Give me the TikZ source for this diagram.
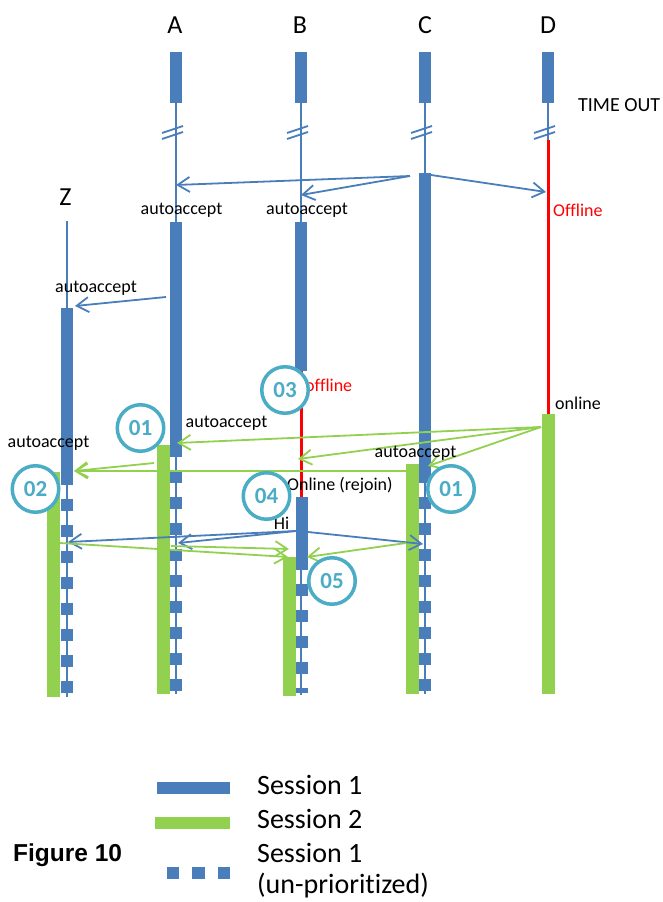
\documentclass[tikz,border=0pt]{standalone}
\usepackage{fontspec}
\setmainfont{Carlito}[Ligatures=NoCommon]
\newfontfamily\arialfam{Liberation Sans}
\usetikzlibrary{arrows.meta}
\definecolor{sblue}{RGB}{74,126,187}
\definecolor{sgreen}{RGB}{146,208,80}
\definecolor{steal}{RGB}{75,172,198}
\definecolor{sred}{RGB}{255,0,0}
\newcommand\lblfont{\fontsize{18}{20}\selectfont}
\newcommand\hdrfont{\fontsize{26}{28}\selectfont}
\newcommand\legfont{\fontsize{28}{30}\selectfont}
\tikzset{
  thinline/.style={draw=sblue, line width=1.8pt},
  redline/.style={draw=sred, line width=3pt},
  bluebar/.style={fill=sblue, draw=none},
  greenbar/.style={fill=sgreen, draw=none},
  dashbar/.style={draw=sblue, line width=12.5pt, dash pattern=on 12pt off 14pt, dash phase=12pt},
  barrow/.style={draw=sblue, line width=1.8pt, -{Straight Barb[length=12pt,width=15pt]}},
  garrow/.style={draw=sgreen, line width=1.8pt, -{Straight Barb[length=12pt,width=15pt]}},
  lbl/.style={font=\lblfont, inner sep=0pt, text=black},
  hdr/.style={font=\hdrfont, inner sep=0pt, text=black},
  legtxt/.style={font=\legfont, inner sep=0pt, text=black, anchor=base west},
  circ/.style={circle, draw=steal, line width=3.5pt, fill=white, minimum size=46.5pt,
    inner sep=0pt, text=steal, font=\fontsize{23}{25}\selectfont\bfseries}
}
\begin{document}
\begin{tikzpicture}[x=1pt,y=-1pt]
\useasboundingbox (0,0) rectangle (663,902);

% headers
\node[hdr] (hA) at (175,25.5) {A};
\node[hdr] (hB) at (300,25.5) {B};
\node[hdr] (hC) at (425,25.5) {C};
\node[hdr] (hD) at (548,25.5) {D};
\node[hdr] (hZ) at (65.5,197) {Z};
\node[font=\fontsize{20}{22}\selectfont, inner sep=0pt, anchor=west] (tout) at (578,105) {TIME OUT};

% thin lifelines
\draw[thinline] (67,221) -- (67,697);
\draw[thinline] (176,103) -- (176,694);
\draw[thinline] (301,103) -- (301,371);
\draw[thinline] (301,570) -- (301,695);
\draw[thinline] (425,103) -- (425,694);
\draw[thinline] (548,103) -- (548,140);
\draw[redline] (301,371) -- (301,497);
\draw[redline] (548,140) -- (548,414);

% break marks
\foreach \x in {176,301,425,548}{
  \draw[thinline] (\x-14,133) -- (\x+7,126);
  \draw[thinline] (\x-14,139) -- (\x+7,132);
}

% top bars
\foreach \x in {176,301,425,548}{
  \fill[sblue] (\x-6.25,52) rectangle (\x+6.25,103);
}

% session 1 bars
\path[bluebar] (60.75,308) rectangle (73.25,485);
\path[bluebar] (169.75,222) rectangle (182.25,457);
\path[bluebar] (294.75,222) rectangle (307.25,371);
\path[bluebar] (295.5,497) rectangle (308,570);
\path[bluebar] (418.75,173) rectangle (431.25,483);

% un-prioritized session 1
\draw[dashbar] (67,485) -- (67,693);
\draw[dashbar] (176,457) -- (176,691);
\draw[dashbar] (301.5,570) -- (301.5,693);
\draw[dashbar] (425,483) -- (425,691);

% session 2 bars
\path[greenbar] (47,472) rectangle (60,697);
\path[greenbar] (157,445) rectangle (170,694);
\path[greenbar] (283,557) rectangle (296,696);
\path[greenbar] (406,464) rectangle (418.5,694);
\path[greenbar] (542,414) rectangle (554.5,694);

% connector end points
\coordinate (cL) at (410,176);
\coordinate (cR) at (431,175);
\coordinate (aT1) at (176,185);
\coordinate (bT1) at (301,195);
\coordinate (dT1) at (546,192);
\coordinate (aS1) at (166,297);
\coordinate (zT1) at (75,306);
\coordinate (dS) at (541,427);
\coordinate (aT2) at (177,443);
\coordinate (bT2) at (298,459);
\coordinate (cT2) at (428,466);
\coordinate (aS2) at (154,463);
\coordinate (cS2) at (406,471);
\coordinate (zT2) at (74,471);
\coordinate (bS3) at (296,531);
\coordinate (bS3r) at (308,532);
\coordinate (zT3) at (68,542);
\coordinate (aT3) at (178,543);
\coordinate (cT3) at (423,544);
\coordinate (zS4) at (60,543);
\coordinate (aS4) at (171,546);
\coordinate (cS4) at (406,543);
\coordinate (bT4a) at (288,557);
\coordinate (bT4b) at (289,549);
\coordinate (bT4c) at (307,557);

% blue arrows
\draw[barrow] (cL) -- (aT1);
\draw[barrow] (cL) -- (bT1);
\draw[barrow] (cR) -- (dT1);
\draw[barrow] (aS1) -- (zT1);
\draw[barrow] (bS3) -- (zT3);
\draw[barrow] (bS3) -- (aT3);
\draw[barrow] (bS3r) -- (cT3);

% green arrows
\draw[garrow] (dS) -- (aT2);
\draw[garrow] (dS) -- (bT2);
\draw[garrow] (dS) -- (cT2);
\draw[garrow] (aS2) -- (zT2);
\draw[garrow] (cS2) -- (zT2);
\draw[garrow] (zS4) -- (bT4a);
\draw[garrow] (aS4) -- (bT4b);
\draw[garrow] (cS4) -- (bT4c);

% labels
\node[lbl] (lA1) at (181.5,210) {autoaccept};
\node[lbl] (lB1) at (307,210) {autoaccept};
\node[lbl, text=sred, anchor=west] (lD1) at (553,210) {Offline};
\node[lbl] (lZ1) at (96,288) {autoaccept};
\node[lbl] (lA2) at (226.5,423) {autoaccept};
\node[lbl] (lZ2) at (48.5,443) {autoaccept};
\node[lbl] (lC2) at (415.5,453) {autoaccept};
\node[lbl, text=sred, anchor=west] (lB2) at (305,385) {offline};
\node[lbl, anchor=west] (lD2) at (555,403) {online};
\node[lbl, anchor=west] (lB3) at (287,485) {Online (rejoin)};
\node[lbl] (lB4) at (281.5,523) {Hi};

% numbered circles
\node[circ] (n01a) at (140.5,428) {01};
\node[circ] (n02) at (35.5,489) {02};
\node[circ] (n03) at (285,390) {03};
\node[circ] (n04) at (266.5,496) {04};
\node[circ] (n01c) at (451,489) {01};
\node[circ] (n05) at (332,581) {05};

% legend
\path[bluebar] (157,782) rectangle (230,794);
\path[greenbar] (155,817) rectangle (230,829);
\draw[draw=sblue, line width=12pt, dash pattern=on 12.5pt off 13pt, dash phase=12.5pt] (153.5,873) -- (230,873);
\node[legtxt] (lg1) at (257,794) {Session 1};
\node[legtxt] (lg2) at (257,828.5) {Session 2};
\node[legtxt] (lg3) at (257,862) {Session 1};
\node[legtxt] (lg4) at (257,893) {(un-prioritized)};
\node[font=\arialfam\bfseries\fontsize{24.5}{26}\selectfont, inner sep=0pt, anchor=west] (fig) at (13,855) {Figure 10};
\end{tikzpicture}
\end{document}
